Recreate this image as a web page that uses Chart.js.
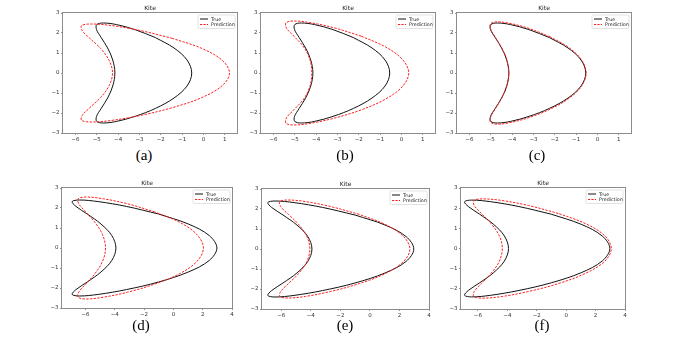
<!DOCTYPE html>
<html><head><meta charset="utf-8">
<script src="https://cdn.jsdelivr.net/npm/chart.js@4.4.1/dist/chart.umd.min.js"></script>
<style>
html,body{margin:0;padding:0;background:#fff;width:693px;height:341px;overflow:hidden;position:relative;}
canvas.panel{position:absolute;}
.cap{position:absolute;font-family:"Liberation Serif",serif;font-size:15px;line-height:1;color:#000;transform:translateX(-50%);white-space:nowrap;}
</style></head><body>
<script>
// ---------- data ----------
const plotTitle = 'Kite';
const seriesNames = ['True', 'Prediction'];
const captions = ['(a)', '(b)', '(c)', '(d)', '(e)', '(f)'];
const yTicks = [-3, -2, -1, 0, 1, 2, 3];
const xTicksTop = [-6, -5, -4, -3, -2, -1, 0, 1];
const xTicksBottom = [-6, -4, -2, 0, 2, 4];

// true kite, top row (a, b, c)
const trueTopX = [-2.25,-3.21,-4.07,-4.69,-5.00,-5.01,-4.79,-4.49,-4.25,-4.15,-4.25,-4.49,-4.79,-5.01,-5.00,-4.69,-4.07,-3.21,-2.25,-1.38,-0.77,-0.55,-0.77,-1.38,-2.25];
const trueTopY = [1.77,2.17,2.42,2.5,2.42,2.17,1.77,1.25,0.65,0,-0.65,-1.25,-1.77,-2.17,-2.42,-2.5,-2.42,-2.17,-1.77,-1.25,-0.65,0,0.65,1.25,1.77];
// predictions, top row
const predAX = [-1.45,-2.94,-4.29,-5.25,-5.71,-5.68,-5.32,-4.82,-4.42,-4.26,-4.42,-4.82,-5.32,-5.68,-5.71,-5.25,-4.29,-2.94,-1.45,-0.08,0.88,1.22,0.88,-0.08,-1.45];
const predAY = [1.73,2.12,2.37,2.45,2.37,2.12,1.73,1.23,0.63,0,-0.63,-1.23,-1.73,-2.12,-2.37,-2.45,-2.37,-2.12,-1.73,-1.23,-0.63,0,0.63,1.23,1.73];
const predBX = [-1.88,-3.12,-4.24,-5.04,-5.41,-5.39,-5.04,-4.58,-4.29,-4.2,-4.29,-4.58,-5.04,-5.39,-5.41,-5.04,-4.24,-3.12,-1.88,-0.74,0.05,0.34,0.05,-0.74,-1.88];
const predBY = [1.84,2.25,2.51,2.6,2.51,2.25,1.84,1.3,0.67,0,-0.67,-1.3,-1.84,-2.25,-2.51,-2.6,-2.51,-2.25,-1.84,-1.3,-0.67,0,0.67,1.3,1.84];
const predCX = [-2.22,-3.18,-4.05,-4.68,-5.0,-5.01,-4.8,-4.5,-4.25,-4.16,-4.25,-4.5,-4.8,-5.01,-5.0,-4.68,-4.05,-3.18,-2.22,-1.35,-0.75,-0.53,-0.75,-1.35,-2.22];
const predCY = [1.81,2.22,2.47,2.56,2.47,2.22,1.81,1.28,0.66,0,-0.66,-1.28,-1.81,-2.22,-2.47,-2.56,-2.47,-2.22,-1.81,-1.28,-0.66,0,0.66,1.28,1.81];

// true kite, bottom row (d, e, f)
const trueBotX = [-1.01,-3.21,-5.13,-6.42,-6.91,-6.65,-5.88,-4.94,-4.2,-3.92,-4.2,-4.94,-5.88,-6.65,-6.91,-6.42,-5.13,-3.21,-1.01,1.02,2.45,2.97,2.45,1.02,-1.01];
const trueBotY = [1.7,2.08,2.32,2.4,2.32,2.08,1.7,1.2,0.62,0,-0.62,-1.2,-1.7,-2.08,-2.32,-2.4,-2.32,-2.08,-1.7,-1.2,-0.62,0,0.62,1.2,1.7];
// predictions, bottom row
const predDX = [-1.26,-3.12,-4.78,-5.95,-6.5,-6.46,-5.98,-5.35,-4.83,-4.63,-4.83,-5.35,-5.98,-6.46,-6.5,-5.95,-4.78,-3.12,-1.26,0.44,1.62,2.05,1.62,0.44,-1.26];
const predDY = [1.8,2.21,2.46,2.55,2.46,2.21,1.8,1.28,0.66,0,-0.66,-1.28,-1.8,-2.21,-2.46,-2.55,-2.46,-2.21,-1.8,-1.28,-0.66,0,0.66,1.28,1.8];
const predEX = [-0.72,-2.64,-4.35,-5.55,-6.1,-6.03,-5.51,-4.83,-4.27,-4.06,-4.27,-4.83,-5.51,-6.03,-6.1,-5.55,-4.35,-2.64,-0.72,1.04,2.27,2.71,2.27,1.04,-0.72];
const predEY = [1.73,2.12,2.37,2.45,2.37,2.12,1.73,1.23,0.63,0,-0.63,-1.23,-1.73,-2.12,-2.37,-2.45,-2.37,-2.12,-1.73,-1.23,-0.63,0,0.63,1.23,1.73];
const predFX = [-0.53,-2.55,-4.36,-5.66,-6.28,-6.25,-5.77,-5.1,-4.55,-4.34,-4.55,-5.1,-5.77,-6.25,-6.28,-5.66,-4.36,-2.55,-0.53,1.32,2.61,3.07,2.61,1.32,-0.53];
const predFY = [1.74,2.13,2.38,2.46,2.38,2.13,1.74,1.23,0.64,0,-0.64,-1.23,-1.74,-2.13,-2.38,-2.46,-2.38,-2.13,-1.74,-1.23,-0.64,0,0.64,1.23,1.74];

// ---------- layout (page pixels of each axes box) ----------
const panels = [
  {L:63,  T:13,  R:237, B:133, xmin:-6.58, xmax:1.57, xt:xTicksTop,    tx:trueTopX, ty:trueTopY, px:predAX, py:predAY, capX:144, capY:147.5},
  {L:261, T:13,  R:435, B:133, xmin:-6.58, xmax:1.57, xt:xTicksTop,    tx:trueTopX, ty:trueTopY, px:predBX, py:predBY, capX:345, capY:147.5},
  {L:457, T:13,  R:631, B:133, xmin:-6.58, xmax:1.57, xt:xTicksTop,    tx:trueTopX, ty:trueTopY, px:predCX, py:predCY, capX:537, capY:147.5},
  {L:62,  T:188, R:232, B:308, xmin:-7.6,  xmax:4,    xt:xTicksBottom, tx:trueBotX, ty:trueBotY, px:predDX, py:predDY, capX:141, capY:317.5},
  {L:262, T:189, R:429, B:309, xmin:-7.3,  xmax:4,    xt:xTicksBottom, tx:trueBotX, ty:trueBotY, px:predEX, py:predEY, capX:345, capY:317.5},
  {L:461, T:188, R:625, B:309, xmin:-7.15, xmax:4,    xt:xTicksBottom, tx:trueBotX, ty:trueBotY, px:predFX, py:predFY, capX:542, capY:317.5}
];

const PADL = 22, PADT = 12, PADR = 4, PADB = 12;
const minus = v => String(v).replace('-', '\u2212');
const pts = (xs, ys) => xs.map((x, i) => ({x: x, y: ys[i]}));

const decoPlugin = {
  id: 'deco',
  afterDatasetsDraw(chart) {
    const ctx = chart.ctx, a = chart.chartArea;
    ctx.save();
    // spines
    ctx.strokeStyle = '#8c8c8c';
    ctx.lineWidth = 1;
    ctx.strokeRect(a.left - 0.5, a.top - 0.5, a.right - a.left + 1, a.bottom - a.top + 1);
    // title
    ctx.fillStyle = '#222';
    ctx.font = '6px "DejaVu Sans"';
    ctx.textAlign = 'center';
    ctx.textBaseline = 'middle';
    ctx.fillText(plotTitle, (a.left + a.right) / 2, a.top - 5);
    // legend
    const w = 37, h = 13.5;
    const bx = a.right - 2 - w, by = a.top + 2;
    ctx.beginPath();
    if (ctx.roundRect) ctx.roundRect(bx, by, w, h, 1.5); else ctx.rect(bx, by, w, h);
    ctx.fillStyle = 'rgba(255,255,255,0.85)';
    ctx.fill();
    ctx.strokeStyle = '#d6d6d6';
    ctx.lineWidth = 0.7;
    ctx.stroke();
    const rows = [by + 4, by + 9.5];
    const styles = [{c:'#111', d:[]}, {c:'#ff2020', d:[2.2, 1.2]}];
    ctx.textAlign = 'left';
    ctx.font = '4.8px "DejaVu Sans"';
    for (let i = 0; i < 2; i++) {
      ctx.beginPath();
      ctx.setLineDash(styles[i].d);
      ctx.strokeStyle = styles[i].c;
      ctx.lineWidth = 1;
      ctx.moveTo(bx + 2, rows[i]);
      ctx.lineTo(bx + 10, rows[i]);
      ctx.stroke();
      ctx.setLineDash([]);
      ctx.fillStyle = '#222';
      ctx.fillText(seriesNames[i], bx + 13, rows[i] + 0.3);
    }
    ctx.restore();
  }
};

Chart.defaults.font.family = '"DejaVu Sans"';

panels.forEach((p, idx) => {
  const cv = document.createElement('canvas');
  cv.className = 'panel';
  const W = (p.R - p.L) + PADL + PADR, H = (p.B - p.T) + PADT + PADB;
  cv.width = W; cv.height = H;
  cv.style.left = (p.L - PADL) + 'px';
  cv.style.top = (p.T - PADT) + 'px';
  cv.style.width = W + 'px'; cv.style.height = H + 'px';
  document.body.appendChild(cv);

  const cap = document.createElement('div');
  cap.className = 'cap';
  cap.textContent = captions[idx];
  cap.style.left = p.capX + 'px';
  cap.style.top = p.capY + 'px';
  document.body.appendChild(cap);

  new Chart(cv, {
    type: 'scatter',
    data: {
      datasets: [
        {label: seriesNames[0], data: pts(p.tx, p.ty), showLine: true, borderColor: '#111', borderWidth: 1,
         pointRadius: 0, pointHoverRadius: 0, tension: 0.35, fill: false, order: 1},
        {label: seriesNames[1], data: pts(p.px, p.py), showLine: true, borderColor: '#ff2020', borderWidth: 1,
         borderDash: [2.4, 1.3], pointRadius: 0, pointHoverRadius: 0, tension: 0.35, fill: false, order: 0}
      ]
    },
    options: {
      responsive: false, animation: false, devicePixelRatio: 1,
      layout: {padding: {left: 0, top: PADT, right: PADR, bottom: 0}},
      plugins: {legend: {display: false}, tooltip: {enabled: false}, title: {display: false}},
      scales: {
        x: {
          type: 'linear', min: p.xmin, max: p.xmax,
          afterBuildTicks: s => { s.ticks = p.xt.map(v => ({value: v})); },
          afterFit: s => { s.height = PADB; },
          grid: {display: true, drawOnChartArea: false, drawTicks: true, tickLength: 2, color: '#666', lineWidth: 0.7},
          border: {display: false},
          ticks: {callback: v => minus(v), font: {size: 5.5}, color: '#333', padding: 1, maxRotation: 0, autoSkip: false}
        },
        y: {
          type: 'linear', min: -3, max: 3,
          afterBuildTicks: s => { s.ticks = yTicks.map(v => ({value: v})); },
          afterFit: s => { s.width = PADL; },
          grid: {display: true, drawOnChartArea: false, drawTicks: true, tickLength: 2, color: '#666', lineWidth: 0.7},
          border: {display: false},
          ticks: {callback: v => minus(v), font: {size: 5.5}, color: '#333', padding: 1.5, autoSkip: false}
        }
      }
    },
    plugins: [decoPlugin]
  });
});
</script>
</body></html>
